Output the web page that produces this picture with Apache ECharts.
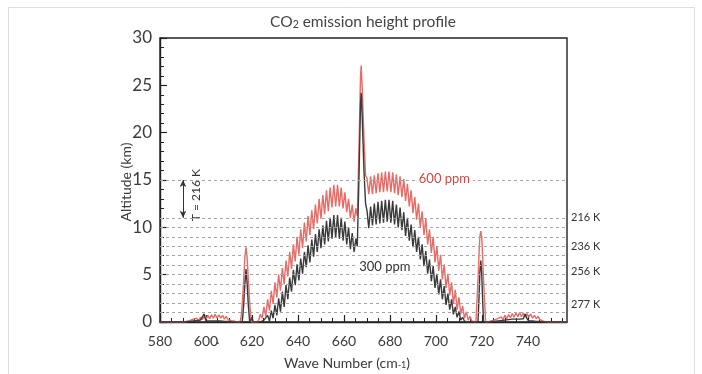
<!DOCTYPE html>
<html>
<head>
<meta charset="utf-8">
<script src="https://cdn.jsdelivr.net/npm/echarts@6/dist/echarts.min.js"></script>
<style>
  html, body { margin: 0; padding: 0; background: #fff; }
  #chart { width: 702px; height: 374px; }
</style>
</head>
<body>
<div id="chart"></div>
<script>
// Wave numbers (cm^-1) of the sampled spectrum, shared by both concentrations.
const waveNumber = [
  580, 590,
  // low-frequency wing
  591.2, 592.0, 592.8, 593.6, 594.4, 595.2, 596.0, 596.8, 597.6, 598.4, 599.2, 600.0, 600.8, 601.6,
  602.4, 603.2, 604.0, 604.8, 605.6, 606.4, 607.2, 608.0, 608.8, 609.6, 610.4, 611.2, 612.0, 612.8,
  // 618 band
  613.6, 614.6, 615.2, 615.8, 616.4, 616.9, 617.4, 617.9, 618.4, 619.0, 619.6, 620.0, 620.5, 621.2,
  // P branch
  622.0, 622.8, 623.6, 624.4, 625.2, 626.0, 626.8, 627.6, 628.4, 629.2, 630.0, 630.8, 631.6, 632.4,
  633.2, 634.0, 634.8, 635.6, 636.4, 637.2, 638.0, 638.8, 639.6, 640.4, 641.2, 642.0, 642.8, 643.6,
  644.4, 645.2, 646.0, 646.8, 647.6, 648.4, 649.2, 650.0, 650.8, 651.6, 652.4, 653.2, 654.0, 654.8,
  655.6, 656.4, 657.2, 658.0, 658.8, 659.6, 660.4, 661.2, 662.0, 662.8, 663.6, 664.4, 665.2,
  // Q branch
  665.8, 666.6, 667.2, 667.5, 667.9, 668.7, 669.4,
  // R branch
  670.0, 670.8, 671.6, 672.4, 673.2, 674.0, 674.8, 675.6, 676.4, 677.2, 678.0, 678.8, 679.6, 680.4,
  681.2, 682.0, 682.8, 683.6, 684.4, 685.2, 686.0, 686.8, 687.6, 688.4, 689.2, 690.0, 690.8, 691.6,
  692.4, 693.2, 694.0, 694.8, 695.6, 696.4, 697.2, 698.0, 698.8, 699.6, 700.4, 701.2, 702.0, 702.8,
  703.6, 704.4, 705.2, 706.0, 706.8, 707.6, 708.4, 709.2, 710.0, 710.8, 711.6, 712.4, 713.2, 714.0,
  714.8, 715.6, 716.4,
  // 720 band
  717.4, 718.3, 718.8, 719.1, 719.5, 719.9, 720.2, 720.7, 721.6, 722.6,
  // high-frequency wing
  723.6, 724.4, 725.2, 726.0, 726.8, 727.6, 728.4, 729.2, 730.0, 730.8, 731.6, 732.4, 733.2, 734.0,
  734.8, 735.6, 736.4, 737.2, 738.0, 738.8, 739.6, 740.4, 741.2, 742.0, 742.8, 743.6, 744.4, 745.2,
  746.0, 746.8, 747.6, 748.4,
  750, 757
];

// Emission height (km) at 600 ppm CO2.
const alt600 = [
  0, 0,
  0.05, 0, 0.15, 0.05, 0.3, 0.1, 0.4, 0.15, 0.5, 0.25, 0.6, 0.3, 0.7, 0.35,
  0.75, 0.4, 0.8, 0.4, 0.75, 0.4, 0.7, 0.3, 0.6, 0.25, 0.45, 0.15, 0.3, 0.05,
  0, 0, 0.3, 2.0, 4.5, 6.8, 7.9, 6.8, 4.5, 2.0, 0.3, 0, 0, 0,
  0.1, 0.1, 0.8, 0.4, 1.6, 0.6, 2.4, 1.2, 3.3, 1.9, 4.2, 2.6, 5.0, 3.3,
  5.7, 4.0, 6.5, 4.8, 7.4, 5.6, 8.2, 6.4, 9.0, 7.1, 9.8, 7.8, 10.5, 8.5,
  11.2, 9.2, 11.8, 9.8, 12.4, 10.4, 13.0, 10.9, 13.4, 11.4, 13.9, 11.7, 14.2, 12.1,
  14.5, 12.2, 14.5, 12.2, 14.2, 12.0, 13.7, 11.6, 13.0, 11.0, 12.4, 10.6, 12.0,
  11.2, 19.0, 26.0, 27.1, 25.0, 19.5, 15.5,
  15.2, 13.5, 15.4, 13.5, 15.5, 13.6, 15.7, 13.7, 15.8, 13.7, 15.9, 13.8, 15.9, 13.7,
  15.8, 13.6, 15.6, 13.4, 15.4, 13.2, 15.1, 12.8, 14.6, 12.2, 13.9, 11.5, 13.2, 10.8,
  12.5, 10.0, 11.7, 9.2, 10.9, 8.2, 9.8, 7.3, 9.0, 6.3, 8.0, 5.4, 7.1, 4.5,
  6.1, 3.6, 5.1, 2.8, 4.2, 1.9, 3.4, 1.3, 2.6, 0.8, 1.7, 0.4, 1.1, 0.2,
  0.6, 0.1, 0.2,
  0, 4.5, 7.5, 9.0, 9.6, 9.0, 7.5, 4.5, 0, 0,
  0.1, 0, 0.2, 0.05, 0.35, 0.15, 0.55, 0.25, 0.7, 0.35, 0.8, 0.45, 0.9, 0.5,
  0.95, 0.55, 1.0, 0.55, 0.95, 0.5, 0.9, 0.5, 0.85, 0.4, 0.7, 0.35, 0.6, 0.25,
  0.4, 0.1, 0.25, 0,
  0, 0
];

// Emission height (km) at 300 ppm CO2.
const alt300 = [
  0, 0,
  0, 0, 0.05, 0, 0.1, 0, 0.15, 0.05, 0.2, 0.05, 0.85, 0.1, 0.25, 0.1,
  0.3, 0.1, 0.3, 0.1, 0.3, 0.1, 0.25, 0.05, 0.2, 0.05, 0.15, 0, 0.1, 0,
  0, 0, 0, 0, 1.8, 4.0, 5.6, 4.0, 1.8, 0, 0.2, 0.5, 0, 0,
  0, 0, 0, 0, 0.2, 0, 0.7, 0.1, 1.2, 0.4, 1.8, 0.7, 2.5, 1.1,
  3.2, 1.6, 3.9, 2.4, 4.7, 3.2, 5.5, 3.9, 6.1, 4.4, 6.7, 5.1, 7.4, 5.8,
  8.1, 6.3, 8.7, 6.9, 9.3, 7.4, 9.8, 7.8, 10.2, 8.2, 10.7, 8.5, 11.0, 8.8,
  11.3, 8.9, 11.3, 8.8, 11.0, 8.6, 10.6, 8.2, 10.0, 7.7, 9.4, 7.4, 8.8,
  8.0, 16.0, 23.0, 24.2, 22.0, 16.0, 12.5,
  11.8, 9.9, 12.2, 10.2, 12.5, 10.3, 12.7, 10.4, 12.8, 10.5, 12.9, 10.6, 12.9, 10.5,
  12.8, 10.3, 12.4, 10.0, 12.1, 9.7, 11.6, 9.1, 11.0, 8.6, 10.3, 7.9, 9.7, 7.4,
  9.0, 6.6, 8.2, 5.9, 7.5, 5.1, 6.6, 4.3, 5.9, 3.6, 5.1, 2.9, 4.5, 2.4,
  3.8, 1.8, 3.0, 1.3, 2.4, 0.8, 1.6, 0.5, 1.1, 0.2, 0.5, 0.1, 0.1, 0,
  0, 0, 0,
  0, 0, 3.0, 5.2, 6.5, 5.2, 3.0, 0, 0, 0,
  0, 0, 0.05, 0, 0.1, 0.05, 0.15, 0.05, 0.2, 0.1, 0.25, 0.1, 0.3, 0.1,
  0.3, 0.15, 0.3, 0.15, 0.35, 0.85, 0.35, 0.1, 0.3, 0.1, 0.25, 0.05, 0.2, 0.05,
  0.1, 0, 0.05, 0,
  0, 0
];

// Reference altitudes (km) drawn as dashed guides.
const guideLevels = [1, 2, 3, 4, 5, 6, 7, 8, 9, 10, 11, 15];
// Temperatures of the standard atmosphere at the marked heights.
const tempLevels = [11, 7.95, 5.3, 1.87];
const tempLabels = ['216 K', '236 K', '256 K', '277 K'];

// Axis ticks.
const xMajorTicks = [580, 600, 620, 640, 660, 680, 700, 720, 740];
const xMinorTicks = [585, 590, 595, 605, 610, 615, 625, 630, 635, 645, 650, 655, 665, 670, 675,
                     685, 690, 695, 705, 710, 715, 725, 730, 735, 745, 750, 755];

const FONT = 'Lato, "Open Sans", "DejaVu Sans", sans-serif';
const TXT = '#3a3a3a';
const RED = '#e86b65';
const DARK = '#3a3a3a';

const chart = echarts.init(document.getElementById('chart'), null, { renderer: 'canvas' });

const grid = { left: 160, right: 135, top: 38, bottom: 52, show: true, borderColor: '#222', borderWidth: 1.4, containLabel: false };

chart.setOption({
  animation: false,
  backgroundColor: '#fff',
  grid: grid,
  xAxis: [
    {
      type: 'value', min: 580, max: 757,
      axisLine: { show: true, lineStyle: { color: '#222', width: 1.4 } },
      axisTick: { show: true, inside: true, length: 7, customValues: xMajorTicks, lineStyle: { color: '#222', width: 1.2 } },
      axisLabel: { show: true, customValues: xMajorTicks, margin: 12, fontSize: 14, color: TXT, fontFamily: FONT },
      splitLine: { show: false }
    },
    {
      type: 'value', min: 580, max: 757, position: 'bottom',
      axisLine: { show: false },
      axisTick: { show: true, inside: true, length: 4, customValues: xMinorTicks, lineStyle: { color: '#222', width: 1 } },
      axisLabel: { show: false },
      splitLine: { show: false }
    }
  ],
  yAxis: {
    type: 'value', min: 0, max: 30, interval: 5,
    axisLine: { show: true, lineStyle: { color: '#222', width: 1.4 } },
    axisTick: { show: true, inside: true, length: 7, lineStyle: { color: '#222', width: 1.2 } },
    minorTick: { show: true, splitNumber: 5, length: 4, lineStyle: { color: '#222', width: 1 } },
    axisLabel: { margin: 8, fontSize: 17, color: TXT, fontFamily: FONT },
    splitLine: { show: false },
    minorSplitLine: { show: false }
  },
  series: [
    {
      // dashed altitude guides
      type: 'line', data: [], z: 1, silent: true,
      markLine: {
        silent: true, symbol: 'none', animation: false,
        label: { show: false },
        lineStyle: { type: [3, 3], color: '#a5a5a5', width: 1 },
        data: guideLevels.map(v => ({ yAxis: v }))
      }
    },
    {
      // tropopause arrow between 11 and 15 km
      type: 'line', data: [], z: 3, silent: true,
      markLine: {
        silent: true, animation: false,
        symbol: ['arrow', 'arrow'], symbolSize: [5, 7],
        label: { show: false },
        lineStyle: { type: 'solid', color: '#333', width: 1 },
        data: [[{ coord: [590, 15] }, { coord: [590, 11] }]]
      }
    },
    {
      name: '600 ppm', type: 'line', z: 2,
      showSymbol: false, symbol: 'none',
      data: waveNumber.map((w, i) => [w, alt600[i]]),
      lineStyle: { color: RED, width: 1.4 }
    },
    {
      name: '300 ppm', type: 'line', z: 2,
      showSymbol: false, symbol: 'none',
      data: waveNumber.map((w, i) => [w, alt300[i]]),
      lineStyle: { color: DARK, width: 1.4 }
    }
  ]
});

// Text annotations placed through the axis scales.
const px = (x, y) => chart.convertToPixel({ xAxisIndex: 0, yAxisIndex: 0 }, [x, y]);
const rightEdge = px(757, 0)[0];

const graphics = [
  {
    type: 'rect', silent: true, z: -10,
    shape: { x: 8.5, y: 7.5, width: 686, height: 420 },
    style: { fill: 'none', stroke: '#dedede', lineWidth: 1 }
  },
  {
    type: 'text', x: 363, y: 22, silent: true,
    style: {
      text: 'CO{s|2} emission height profile', align: 'center', verticalAlign: 'middle',
      font: '15.5px ' + FONT, fill: '#444',
      rich: { s: { fontSize: 10.5, fontFamily: FONT, fill: '#444', verticalAlign: 'bottom', padding: [3, 0, 0, 0] } }
    }
  },
  {
    type: 'text', x: 126, y: 182, rotation: Math.PI / 2, silent: true,
    style: { text: 'Altitude (km)', align: 'center', verticalAlign: 'middle', font: '14px ' + FONT, fill: TXT }
  },
  {
    type: 'text', x: 347, y: 363, silent: true,
    style: {
      text: 'Wave Number (cm{s|-1})', align: 'center', verticalAlign: 'middle',
      font: '14px ' + FONT, fill: TXT,
      rich: { s: { fontSize: 9, fontFamily: FONT, fill: TXT, verticalAlign: 'bottom', padding: [5, 0, 0, 0] } }
    }
  },
  {
    type: 'text', x: 218, y: 339, silent: true,
    style: { text: '.', align: 'center', verticalAlign: 'middle', font: '14px ' + FONT, fill: TXT }
  }
];

const tLab = px(595.6, 13.4);
graphics.push({
  type: 'text', x: tLab[0], y: tLab[1], rotation: Math.PI / 2, silent: true,
  style: { text: 'T = 216 K', align: 'center', verticalAlign: 'middle', font: '12px ' + FONT, fill: '#333' }
});

const p600 = px(703.7, 15.1);
graphics.push({
  type: 'text', x: p600[0], y: p600[1], silent: true, z: 10,
  style: { text: '600 ppm', align: 'center', verticalAlign: 'middle', font: '13px ' + FONT, fill: '#cf4a44',
           backgroundColor: '#fff', padding: [1, 3] }
});
const p300 = px(677.8, 5.8);
graphics.push({
  type: 'text', x: p300[0], y: p300[1], silent: true, z: 10,
  style: { text: '300 ppm', align: 'center', verticalAlign: 'middle', font: '13px ' + FONT, fill: '#333',
           backgroundColor: '#fff', padding: [1, 3] }
});

tempLevels.forEach((lv, i) => {
  const p = px(757, lv);
  graphics.push({
    type: 'text', x: rightEdge + 4, y: p[1], silent: true,
    style: { text: tempLabels[i], align: 'left', verticalAlign: 'middle', font: '11px ' + FONT, fill: '#333' }
  });
});

chart.setOption({ graphic: graphics });
</script>
</body>
</html>
